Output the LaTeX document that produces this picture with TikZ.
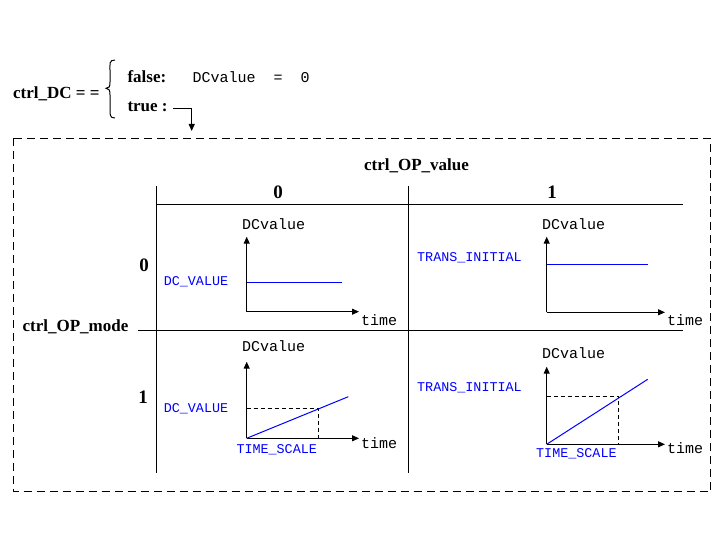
\documentclass[tikz,border=0pt]{standalone}
\usepackage{fontspec}
\setmainfont{Liberation Serif}
\setmonofont{Liberation Mono}
\usetikzlibrary{arrows.meta}
\definecolor{pureblue}{RGB}{0,0,255}
\begin{document}
\begin{tikzpicture}[x=1pt,y=-1pt,line width=1pt,
  lbl/.style={font=\fontsize{17}{19}\selectfont\bfseries,inner sep=0pt},
  hdr/.style={font=\fontsize{19}{22}\selectfont\bfseries,inner sep=0pt},
  mono/.style={font=\fontsize{15}{17}\ttfamily,inner sep=0pt,anchor=west},
  blu/.style={font=\fontsize{13.4}{15}\ttfamily,text=pureblue,inner sep=0pt,anchor=west},
  axis/.style={-{Triangle[length=7pt,width=6pt]}},
  curve/.style={draw=pureblue,line width=1pt},
  guide/.style={dash pattern=on 4pt off 3pt},
  frame/.style={dash pattern=on 8pt off 5pt}]
\useasboundingbox (0,0) rectangle (720,540);
% top condition
\node[lbl,anchor=east] (dc) at (100,94) {ctrl\_DC = =};
\draw (115,60) .. controls (109,60) and (110,64) .. (110,70) -- (110,82)
  .. controls (110,87) and (109,88.3) .. (106,88.3)
  .. controls (109,88.3) and (110,90) .. (110,95) -- (110,110)
  .. controls (110,115) and (110,118) .. (115,118);
\node[lbl,anchor=west] (fls) at (127,77) {false:};
\node[mono] (fv) at (192,77) {DCvalue\ \ =\ \ 0};
\node[lbl,anchor=west] (tru) at (127,106.5) {true :};
\coordinate (tA) at (173,108.3);
\coordinate (tB) at (191.7,131);
\draw[axis] (tA) -| (tB);
% frame
\draw[frame] (13,138.3) rectangle (710.5,491.7);
% table
\node[lbl] (opv) at (416.5,166) {ctrl\_OP\_value};
\node[hdr] (c0) at (278,192.5) {0};
\node[hdr] (c1) at (552,192.5) {1};
\node[lbl] (opm) at (75.5,327) {ctrl\_OP\_mode};
\node[hdr] (r0) at (144,265.5) {0};
\node[hdr] (r1) at (143,397) {1};
\draw (156.7,186) -- (156.7,473);
\draw (408.3,186) -- (408.3,473);
\draw (156.7,204.3) -- (683.3,204.3);
\draw (138,330.5) -- (683.3,330.5);
% graph 1
\coordinate (o1) at (246.7,311.7);
\coordinate (y1) at (246.7,236.7);
\coordinate (x1) at (359,311.7);
\draw[axis] (o1) -- (y1);
\draw[axis] (o1) -- (x1);
\draw[curve] (246.7,282) -- (341.7,282);
\node[mono] (d1) at (241.7,224) {DCvalue};
\node[mono] (t1) at (360.5,320) {time};
\node[blu] (v1) at (163.3,281.3) {DC\_VALUE};
% graph 2
\coordinate (o2) at (546.7,312.3);
\coordinate (y2) at (546.7,236.7);
\coordinate (x2) at (665,312.3);
\draw[axis] (o2) -- (y2);
\draw[axis] (o2) -- (x2);
\draw[curve] (546.7,264) -- (647.7,264);
\node[mono] (d2) at (541.7,224) {DCvalue};
\node[mono] (t2) at (666.7,320) {time};
\node[blu] (v2) at (416.7,257.3) {TRANS\_INITIAL};
% graph 3
\coordinate (o3) at (246.7,438.3);
\coordinate (y3) at (246.7,361.7);
\coordinate (x3) at (359,438.3);
\coordinate (e3) at (348.3,396.7);
\coordinate (g3) at (246.7,408.3);
\coordinate (h3) at (318.3,438.3);
\draw[guide] (g3) -| (h3);
\draw[axis] (o3) -- (y3);
\draw[axis] (o3) -- (x3);
\draw[curve] (o3) -- (e3);
\node[mono] (d3) at (241.7,346) {DCvalue};
\node[mono] (t3) at (360.5,442.7) {time};
\node[blu] (v3) at (163.3,408.3) {DC\_VALUE};
\node[blu] (s3) at (236,449.3) {TIME\_SCALE};
% graph 4
\coordinate (o4) at (546.7,444.3);
\coordinate (y4) at (546.7,366.7);
\coordinate (x4) at (665,444.3);
\coordinate (e4) at (647.7,379.3);
\coordinate (g4) at (546.7,396);
\coordinate (h4) at (618.3,444.3);
\draw[guide] (g4) -| (h4);
\draw[axis] (o4) -- (y4);
\draw[axis] (o4) -- (x4);
\draw[curve] (o4) -- (e4);
\node[mono] (d4) at (541.7,352.7) {DCvalue};
\node[mono] (t4) at (666.7,448.3) {time};
\node[blu] (v4) at (416.7,387.3) {TRANS\_INITIAL};
\node[blu] (s4) at (535.7,453.3) {TIME\_SCALE};
\end{tikzpicture}
\end{document}
